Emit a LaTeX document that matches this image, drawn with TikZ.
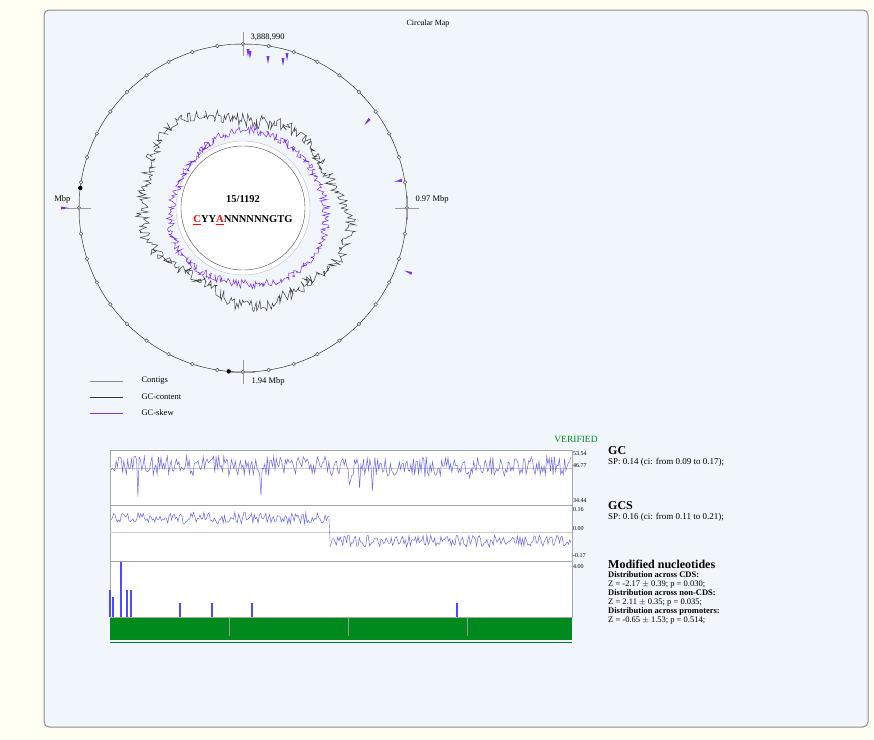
\documentclass[tikz,border=0pt]{standalone}
\usepackage{fontspec}
\setmainfont{Liberation Serif}
\definecolor{panelbg}{HTML}{F0F6FC}
\definecolor{pagebg}{HTML}{FFFFF2}
\definecolor{skew}{HTML}{7B2FF7}
\definecolor{trk}{HTML}{6666EE}
\definecolor{okgreen}{HTML}{008A1E}
\tikzset{
	tickdot/.style = {draw=black!70, fill=white, line width=0.5pt},
	mark arrow/.style = {fill=skew},
	legline/.style = {line width=0.8pt},
	maplab/.style = {font=\fontsize{8.5}{9}\selectfont},
	trackbox/.style = {draw=black!35, fill=white},
	tracklab/.style = {font=\fontsize{6}{6}\selectfont, anchor=west, inner sep=1pt},
	infotext/.style = {font=\fontsize{9}{10}\selectfont, anchor=north west, align=left, inner sep=0pt}
}
\begin{document}
\begin{tikzpicture}[x=1pt,y=-1pt]
			\useasboundingbox (0,0) rectangle (874,739);
			\fill[pagebg] (0,0) rectangle (874,739);
			\draw[black!45, fill=panelbg, rounded corners=5pt, line width=1pt] (44,10) rectangle (868,727);
			\node[maplab, font=\fontsize{8}{9}\selectfont] (title) at (428,24) {Circular Map};
			% circular map
			\coordinate (C) at (243,208);
			\draw[black!80, line width=0.5pt] (C) circle (164);
			\foreach \a in {0,9,...,351} {\draw[tickdot] (C) ++(\a:164) circle (1.8);}
			\fill (C) ++(187:164) circle (2.2);
			\fill (C) ++(95:164) circle (2.2);
			\foreach \a in {0,90,180,270} {
				\draw[black!40] (C) ++(\a:152) -- ++(\a:24);
				\draw[black!40] (C) ++(\a:164) ++(\a+90:12) -- ++(\a-90:24);
			}
			\node[maplab, anchor=south west] (top) at (247,44) {3,888,990};
			\node[maplab, anchor=west] (right) at (412,199) {0.97 Mbp};
			\node[maplab, anchor=west] (bottom) at (248,381) {1.94 Mbp};
			\node[maplab, anchor=east] (left) at (74,199) {Mbp};
			% tracks
			\pgfmathsetseed{7}
			\draw[black!75, line width=0.5pt, shift={(C)}] plot[domain=0:360, samples=420] (\x:{97+9*sin(2*\x+30)+5*sin(5*\x+10)+14*rnd-7});
			\fill[white] (C) circle (67);
			\draw[black!25] (C) circle (67);
			\draw[skew, line width=0.5pt, shift={(C)}] plot[domain=0:360, samples=420] (\x:{77+6*sin(\x+70)+3*sin(3*\x)+9*rnd-4.5});
			\draw[black!70, line width=0.4pt] (C) circle (62);
			\node[font=\bfseries\fontsize{10.5}{11}\selectfont] (count) at (243,199) {15/1192};
			\node[font=\bfseries\fontsize{10.5}{11}\selectfont] (motif) at (243,220) {\textcolor{red}{\underline{C}}YY\textcolor{red}{\underline{A}}NNNNNNGTG};
			% feature marks
			\foreach \x/\y/\r in {248/53/0, 250/55/0, 268/60/0, 283/62/0, 287/57/0, 367/122/-40, 398/181/-80, 408/272/-110, 65/208/90} {
				\fill[mark arrow, rotate around={\r:(\x,\y)}] (\x-1.5,\y-4) -- (\x+1.5,\y-4) -- (\x,\y+4) -- cycle;
			}
			% legend
			\draw[legline, black!45] (90,381) -- (123,381);
			\draw[legline, black!80] (90,397) -- (123,397);
			\draw[legline, draw=skew] (90,413) -- (123,413);
			\node[maplab, anchor=west] (leg1) at (138,381) {Contigs};
			\node[maplab, anchor=west] (leg2) at (138,397) {GC-content};
			\node[maplab, anchor=west] (leg3) at (138,413) {GC-skew};
			% linear tracks
			\node[text=okgreen, font=\fontsize{9.5}{10}\selectfont] (ver) at (576,439) {VERIFIED};
			\draw[trackbox] (110,450) rectangle (572,505);
			\draw[trackbox] (110,505) rectangle (572,561);
			\draw[trackbox] (110,561) rectangle (572,617);
			\draw[black!20] (110,468) -- (572,468);
			\draw[black!20] (110,532) -- (572,532);
			\pgfmathsetseed{11}
			\draw[trk, line width=0.5pt] plot[domain=111:571, samples=360] (\x, {466+20*rnd-10+(rnd>0.94)*22*rnd});
			\draw[trk, line width=0.5pt] plot[domain=111:329, samples=170] (\x, {518+12*rnd-6});
			\draw[trk, line width=0.5pt] plot[domain=330:571, samples=190] (\x, {541+12*rnd-6});
			\draw[trk] (329,518) -- (330,541);
			\foreach \x/\h in {110/27, 113/20, 121/55, 127/27, 131/27, 180/14, 212/14, 252/14, 457/14} {
				\draw[blue!70!white, line width=1.4pt] (\x,617) -- (\x,617-\h);
			}
			\fill[okgreen] (110,618) rectangle (572,640);
			\draw[okgreen, line width=1pt] (110,642) -- (572,642);
			\foreach \x in {229,348,467} {\draw[black!40] (\x,618) -- (\x,636);}
			\node[tracklab] (l1) at (572,454) {53.54};
			\node[tracklab] (l2) at (572,466) {46.77};
			\node[tracklab] (l3) at (572,501) {34.44};
			\node[tracklab] (l4) at (572,510) {0.16};
			\node[tracklab] (l5) at (572,529) {0.00};
			\node[tracklab] (l6) at (572,556) {-0.17};
			\node[tracklab] (l7) at (572,567) {4.00};
			% statistics
			\node[infotext] (gc) at (608,446) {{\bfseries\fontsize{12}{12}\selectfont GC}\\SP: 0.14 (ci: from 0.09 to 0.17);};
			\node[infotext] (gcs) at (608,501) {{\bfseries\fontsize{12}{12}\selectfont GCS}\\SP: 0.16 (ci: from 0.11 to 0.21);};
			\node[infotext, font=\fontsize{8.5}{9}\selectfont] (mod) at (608,560) {{\bfseries\fontsize{12}{12}\selectfont Modified nucleotides}\\\textbf{Distribution across CDS:}\\Z = -2.17 $\pm$ 0.39; p = 0.030;\\\textbf{Distribution across non-CDS:}\\Z = 2.11 $\pm$ 0.35; p = 0.035;\\\textbf{Distribution across promoters:}\\Z = -0.65 $\pm$ 1.53; p = 0.514;};
\end{tikzpicture}
\end{document}
